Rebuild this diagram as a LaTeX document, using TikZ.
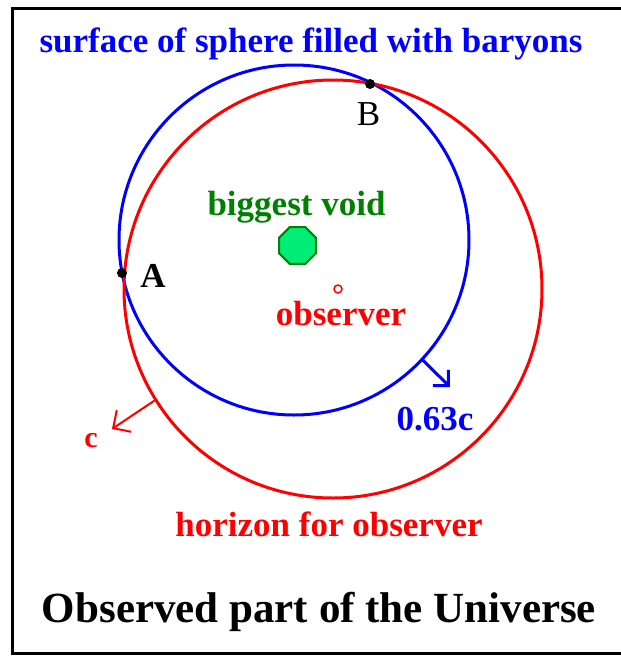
\documentclass[tikz,border=0pt]{standalone}
\usepackage{fontspec}
\setmainfont{Liberation Serif}
\usetikzlibrary{arrows.meta,shapes.geometric}
\definecolor{voidgreen}{RGB}{0,128,0}
\definecolor{voidfill}{RGB}{0,238,118}
\tikzset{
  lbl/.style={inner sep=0pt, anchor=base, font=\fontsize{35}{40}\selectfont\bfseries},
  ring/.style={circle, inner sep=0pt, line width=3pt},
  dotpt/.style={circle, fill=black, inner sep=0pt, minimum size=10pt},
}
\begin{document}
\begin{tikzpicture}[x=1pt,y=-1pt]
\useasboundingbox (0,0) rectangle (621,657);
\fill[white] (0,0) rectangle (621,657);
\draw[line width=3pt] (12,8) rectangle (640,653);
% circles
\node[ring, draw=blue, minimum size=350pt] (sphere) at (294,240) {};
\node[ring, draw=red, minimum size=418pt] (horizon) at (333,289) {};
% arrows
\coordinate (btip) at (450,387);
\coordinate (rtip) at (112,429);
\draw[blue, line width=3pt, -{Straight Barb[length=11pt,width=22pt]}] (sphere.-43.6) -- (btip);
\draw[red, line width=2pt, -{Straight Barb[length=13pt,width=26pt]}] (horizon.212) -- (rtip);
% points
\node[dotpt] (A) at (122,273) {};
\node[dotpt] (B) at (370,84) {};
\node[lbl] (Alab) at (153,287) {A};
\node[lbl, font=\fontsize{35}{40}\selectfont] (Blab) at (368.5,125) {B};
% void and observer
\node[regular polygon, regular polygon sides=8, draw=voidgreen, fill=voidfill, line width=2pt, inner sep=0pt, minimum size=40pt] (void) at (297.5,245.5) {};
\node[circle, draw=red, line width=1.5pt, inner sep=0pt, minimum size=8pt] (obs) at (338,289) {};
% labels
\node[lbl, text=blue] (title) at (311,52) {surface of sphere filled with baryons};
\node[lbl, text=voidgreen] (voidlab) at (296.5,215) {biggest void};
\node[lbl, text=red] (obslab) at (341,325) {observer};
\node[lbl, text=red] (horlab) at (329,536) {horizon for observer};
\node[lbl, text=blue] (vlab) at (435,430) {0.63c};
\node[lbl, text=red, font=\fontsize{30}{34}\selectfont\bfseries] (clab) at (91,447) {c};
\node[lbl, font=\fontsize{43}{48}\selectfont\bfseries] (bottom) at (319,622) {Observed part of the Universe};
\end{tikzpicture}
\end{document}
